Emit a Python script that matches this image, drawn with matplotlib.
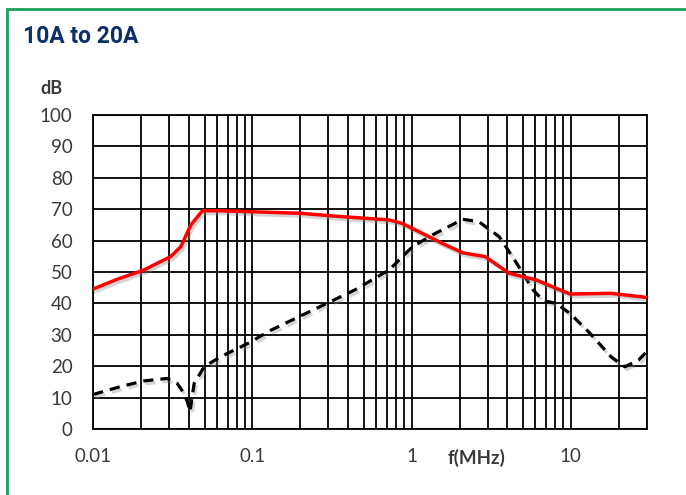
import matplotlib
matplotlib.use("Agg")
import matplotlib.pyplot as plt
import matplotlib.patheffects as pe
from matplotlib.ticker import LogLocator, FixedLocator, NullFormatter

# Insertion loss curves (dB) versus frequency (MHz)
freq_red = [0.01, 0.014, 0.0207, 0.0306, 0.0354, 0.041, 0.0485, 0.0634, 0.2,
            0.37, 0.72, 0.87, 1.17, 1.56, 2.1, 2.9, 4.1, 6.05, 8.1, 9.9, 17.9, 30]
loss_red = [44.6, 47.6, 50.6, 54.9, 58.0, 65.0, 69.5, 69.5, 68.7,
            67.6, 66.6, 65.5, 62.3, 59.1, 56.1, 54.9, 49.6, 47.5, 44.8, 43.0, 43.2, 41.9]

freq_black = [0.01, 0.0148, 0.0207, 0.029, 0.0337, 0.037, 0.039, 0.0405, 0.043,
              0.0497, 0.063, 0.094, 0.131, 0.272, 0.44, 0.72, 1.01, 1.35, 2.1,
              2.65, 3.56, 4.5, 5.8, 6.7, 8.1, 9.9, 13.2, 17.9, 21.9, 26.7, 30]
loss_black = [11.0, 13.5, 15.3, 16.1, 14.5, 11.4, 8.7, 5.5, 14.5,
              19.8, 23.0, 27.3, 31.5, 39.2, 44.3, 50.6, 58.0, 61.8, 66.8,
              66.0, 61.2, 53.3, 44.3, 40.9, 40.0, 36.8, 30.5, 23.0, 19.8, 22.0, 24.6]

x_ticks = [0.01, 0.1, 1, 10]
x_tick_labels = ["0.01", "0.1", "1", "10"]
y_ticks = list(range(0, 101, 10))

title_text = "10A to 20A"
y_unit = "dB"
x_unit = "f(MHz)"

label_font = ["Lato", "DejaVu Sans"]
label_color = "#3a3a3a"

fig = plt.figure(figsize=(6.86, 4.95), dpi=100)
fig.patch.set_facecolor("white")

# Green panel frame (open on the right and bottom edges)
frame = plt.Rectangle((6.5 / 686, -0.1), 1.2, 1.1 - 8.5 / 495,
                      transform=fig.transFigure, fill=False,
                      edgecolor="#16a05d", linewidth=2.0)
fig.add_artist(frame)

fig.text(23.5 / 686, 1 - 36.5 / 495, title_text, ha="left", va="center",
         fontsize=16.5, fontweight="bold", color="#0d2f66",
         family=["Roboto", "DejaVu Sans"])

ax = fig.add_axes([93.3 / 686, 1 - 429 / 495, (646.7 - 93.3) / 686, (429 - 115) / 495])
ax.set_xscale("log")
ax.set_xlim(0.01, 30)
ax.set_ylim(0, 100)

ax.xaxis.set_major_locator(FixedLocator(x_ticks))
ax.set_xticklabels(x_tick_labels)
ax.xaxis.set_minor_locator(LogLocator(base=10, subs=range(2, 10), numticks=20))
ax.xaxis.set_minor_formatter(NullFormatter())
ax.set_yticks(y_ticks)

ax.grid(True, which="both", axis="x", color="black", linewidth=1.3)
ax.grid(True, which="major", axis="y", color="black", linewidth=1.3)
ax.set_axisbelow(True)

ax.tick_params(axis="both", which="both", length=0, labelsize=13.5,
               labelcolor=label_color)
ax.tick_params(axis="x", pad=14)
ax.tick_params(axis="y", pad=15)
for lab in ax.get_xticklabels() + ax.get_yticklabels():
    lab.set_family(label_font)

for sp in ax.spines.values():
    sp.set_color("black")
    sp.set_linewidth(1.3)

shadow = [pe.SimpleLineShadow(offset=(1.5, -2), shadow_color="#888888", alpha=0.35),
          pe.Normal()]

ax.plot(freq_red, loss_red, color="#ff0000", linewidth=2.5,
        solid_joinstyle="round", solid_capstyle="round", path_effects=shadow, zorder=4)
ax.plot(freq_black, loss_black, color="black", linewidth=2.3, linestyle=(0, (3.2, 2.2)),
        path_effects=shadow, zorder=3)

fig.text(51.5 / 686, 1 - 88 / 495, y_unit, ha="center", va="center",
         fontsize=13, fontweight="bold", color=label_color, family=label_font)
fig.text(477 / 686, 1 - 458 / 495, x_unit, ha="center", va="center",
         fontsize=13.5, fontweight="bold", color=label_color, family=label_font)

fig.savefig("out.png", dpi=100, facecolor="white")
